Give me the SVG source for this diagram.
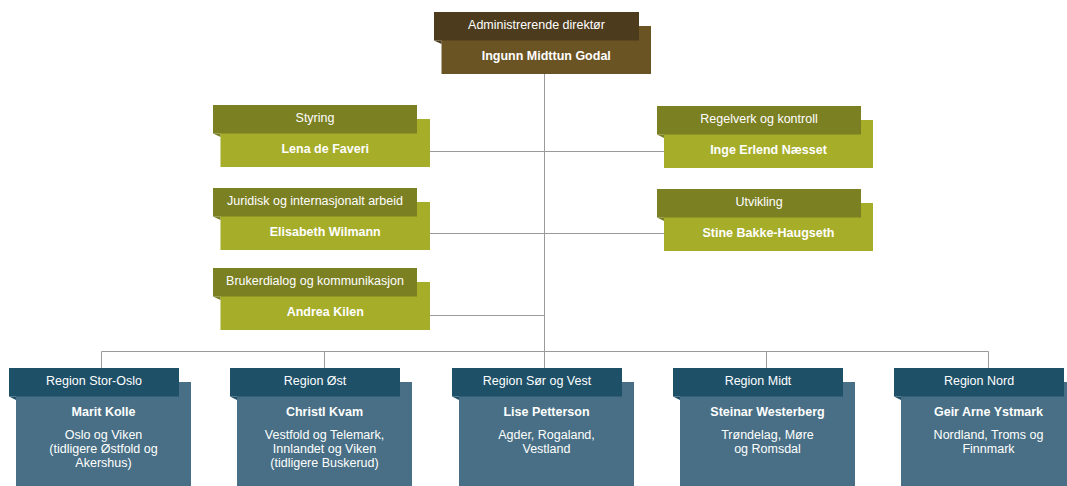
<svg xmlns="http://www.w3.org/2000/svg" width="1067" height="486" viewBox="0 0 1067 486">
<style>
text{font-family:"Liberation Sans",Arial,Helvetica,sans-serif;fill:#ffffff;text-anchor:middle}
.h{font-size:12.5px}
.n{font-size:12.5px;font-weight:bold}
.d{font-size:12.5px}
.bh{fill:#4d3b1d}.bb{fill:#6b5424}
.gh{fill:#7b8023}.gb{fill:#a6ad29}
.rh{fill:#1e5068}.rb{fill:#486f85}
.ln{stroke:#9a9a9a;stroke-width:1;fill:none}
</style>
<rect width="1067" height="486" fill="#ffffff"/>
<g id="connectors">
<path class="ln" d="M544.5 74V351.5M430 151.5H664M430 233.5H664M430 315.5H544.5M101.5 351.5H988.5M101.5 351.5V368M324.5 351.5V368M544.5 351.5V368M766.5 351.5V368M988.5 351.5V368"/>
</g>
<g id="node-direktor">
<rect class="bb" x="441.5" y="26" width="209.5" height="48"/>
<rect class="bh" x="434" y="12" width="205" height="28.5"/>
<polygon class="bh" points="434,40.5 441.5,40.5 441.5,44"/>
<text class="h" x="536.5" y="29">Administrerende direktør</text>
<text class="n" x="546.25" y="60">Ingunn Midttun Godal</text>
</g>
<g id="node-styring">
<rect class="gb" x="220.5" y="119" width="209.5" height="48"/>
<rect class="gh" x="213" y="105" width="204" height="28.5"/>
<polygon class="gh" points="213,133.5 220.5,133.5 220.5,137"/>
<text class="h" x="315" y="122">Styring</text>
<text class="n" x="325.25" y="153">Lena de Faveri</text>
</g>
<g id="node-juridisk">
<rect class="gb" x="220.5" y="202" width="209.5" height="48"/>
<rect class="gh" x="213" y="188" width="204" height="28.5"/>
<polygon class="gh" points="213,216.5 220.5,216.5 220.5,220"/>
<text class="h" x="315" y="205">Juridisk og internasjonalt arbeid</text>
<text class="n" x="325.25" y="236">Elisabeth Wilmann</text>
</g>
<g id="node-brukerdialog">
<rect class="gb" x="220.5" y="282" width="209.5" height="48"/>
<rect class="gh" x="213" y="268" width="204" height="28.5"/>
<polygon class="gh" points="213,296.5 220.5,296.5 220.5,300"/>
<text class="h" x="315" y="285">Brukerdialog og kommunikasjon</text>
<text class="n" x="325.25" y="316">Andrea Kilen</text>
</g>
<g id="node-regelverk">
<rect class="gb" x="664" y="120" width="209" height="48"/>
<rect class="gh" x="657" y="106" width="204" height="28.5"/>
<polygon class="gh" points="657,134.5 664,134.5 664,138"/>
<text class="h" x="759" y="123">Regelverk og kontroll</text>
<text class="n" x="768.5" y="154">Inge Erlend Næsset</text>
</g>
<g id="node-utvikling">
<rect class="gb" x="664" y="203" width="209" height="48"/>
<rect class="gh" x="657" y="189" width="204" height="28.5"/>
<polygon class="gh" points="657,217.5 664,217.5 664,221"/>
<text class="h" x="759" y="206">Utvikling</text>
<text class="n" x="768.5" y="237">Stine Bakke-Haugseth</text>
</g>
<g id="node-stor-oslo">
<rect class="rb" x="16" y="382" width="175" height="110"/>
<rect class="rh" x="9" y="368" width="170" height="28.5"/>
<polygon class="rh" points="9,396.5 16,396.5 16,400"/>
<text class="h" x="94" y="384.5">Region Stor-Oslo</text>
<text class="n" x="103.5" y="415.5">Marit Kolle</text>
<text class="d" x="103.5" y="439">Oslo og Viken</text>
<text class="d" x="103.5" y="453">(tidligere Østfold og</text>
<text class="d" x="103.5" y="467">Akershus)</text>
</g>
<g id="node-ost">
<rect class="rb" x="237" y="382" width="175" height="110"/>
<rect class="rh" x="230" y="368" width="170" height="28.5"/>
<polygon class="rh" points="230,396.5 237,396.5 237,400"/>
<text class="h" x="315" y="384.5">Region Øst</text>
<text class="n" x="324.5" y="415.5">Christl Kvam</text>
<text class="d" x="324.5" y="439">Vestfold og Telemark,</text>
<text class="d" x="324.5" y="453">Innlandet og Viken</text>
<text class="d" x="324.5" y="467">(tidligere Buskerud)</text>
</g>
<g id="node-sor-vest">
<rect class="rb" x="459" y="382" width="175" height="110"/>
<rect class="rh" x="452" y="368" width="170" height="28.5"/>
<polygon class="rh" points="452,396.5 459,396.5 459,400"/>
<text class="h" x="537" y="384.5">Region Sør og Vest</text>
<text class="n" x="546.5" y="415.5">Lise Petterson</text>
<text class="d" x="546.5" y="439">Agder, Rogaland,</text>
<text class="d" x="546.5" y="453">Vestland</text>
</g>
<g id="node-midt">
<rect class="rb" x="680" y="382" width="175" height="110"/>
<rect class="rh" x="673" y="368" width="170" height="28.5"/>
<polygon class="rh" points="673,396.5 680,396.5 680,400"/>
<text class="h" x="758" y="384.5">Region Midt</text>
<text class="n" x="767.5" y="415.5">Steinar Westerberg</text>
<text class="d" x="767.5" y="439">Trøndelag, Møre</text>
<text class="d" x="767.5" y="453">og Romsdal</text>
</g>
<g id="node-nord">
<rect class="rb" x="901" y="382" width="175" height="110"/>
<rect class="rh" x="894" y="368" width="170" height="28.5"/>
<polygon class="rh" points="894,396.5 901,396.5 901,400"/>
<text class="h" x="979" y="384.5">Region Nord</text>
<text class="n" x="988.5" y="415.5">Geir Arne Ystmark</text>
<text class="d" x="988.5" y="439">Nordland, Troms og</text>
<text class="d" x="988.5" y="453">Finnmark</text>
</g>
</svg>
